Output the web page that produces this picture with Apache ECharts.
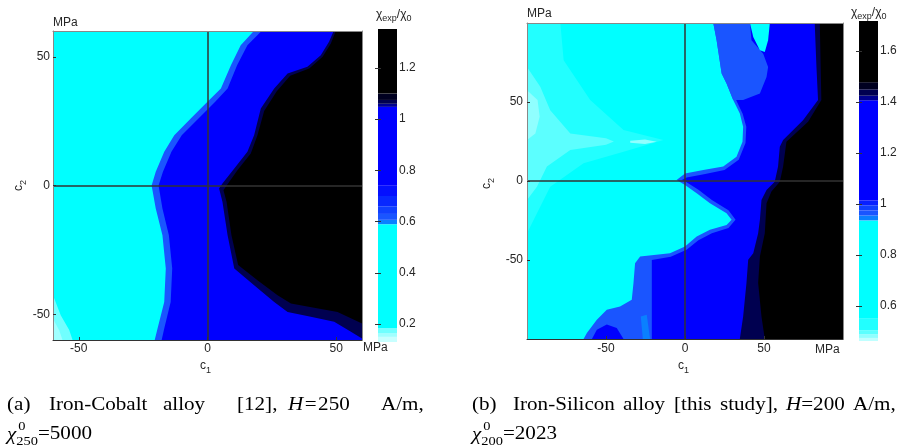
<!DOCTYPE html>
<html>
<head>
<meta charset="utf-8">
<script src="https://cdn.jsdelivr.net/npm/echarts@6/dist/echarts.min.js"></script>
<style>
html, body { margin: 0; padding: 0; background: #fff; }
#main { width: 898px; height: 448px; }
</style>
</head>
<body>
<div id="main"></div>
<script>
// ---------- data, points are [c1, c2] in MPa ----------

// (a) Iron-Cobalt, 250 A/m
const leftRange = [-60, 60];
const leftTicks = [-50, 0, 50];
// contour edges, listed from top to bottom, region to their right gets the level
const leftCyanEdge = [[18, 60], [12.9, 54.5], [9.1, 46.7], [5.2, 37.7], [0, 32.5], [-6.5, 26], [-12.9, 19.5], [-16.8, 13.1], [-20.1, 5.3], [-21.7, 0], [-20.1, -8.9], [-17.5, -19.3], [-16.2, -32.2], [-16.8, -45.2], [-19.4, -55.5], [-20.5, -60]];
const leftBlueEdge = [[21, 60], [15.5, 54.5], [11.5, 46.7], [7.8, 37.7], [3, 32.5], [-3.5, 26], [-10, 19.5], [-14, 13.1], [-17.3, 5.3], [-19, 0], [-17.5, -8.9], [-15, -19.3], [-13.7, -32.2], [-14.3, -45.2], [-16.8, -55.5], [-17.8, -60]];
const leftNavyEdge = [[49, 60], [47.2, 55.8], [44, 50.6], [38.8, 46.1], [31.1, 43.5], [25.9, 37.7], [20.7, 29.9], [18.1, 19.5], [15.5, 13.1], [10.4, 6.6], [5.8, 0.8], [4.5, -1.2], [5.8, -6.3], [7.8, -19.3], [10.4, -32.2], [18.1, -38.7], [25.9, -45.2], [31.1, -49.1], [40.1, -51], [49.2, -52.9], [55.7, -56.8], [60, -59.4]];
const leftBlackEdge = [[49.8, 60], [47.9, 55.1], [44.7, 50], [39.5, 45.4], [32.1, 42.6], [26.9, 36.6], [22, 28.9], [19.4, 19.5], [16.8, 12.4], [11.7, 6], [7.5, 0.1], [6.2, -1.8], [7.4, -6.3], [9.3, -19.3], [11.9, -30.9], [19.4, -36.8], [27.2, -42.6], [32.4, -45.8], [41.4, -47.5], [50.5, -49.1], [60, -53.6]];
const leftCornerOuter = [[-60, -42.6], [-57, -50.4], [-53.7, -56.1], [-52.4, -60], [-60, -60]];
const leftCornerInner = [[-60, -51.7], [-57.6, -56.2], [-56.3, -60], [-60, -60]];
// background, corner outer, corner inner, band, blue, navy, black
const leftShapeLevels = [0.4, 0.175, 0.155, 0.62, 0.9, 1.07, 1.2];
const leftBarEdges = [0.13, 0.15, 0.165, 0.185, 0.59, 0.607, 0.63, 0.66, 0.7, 0.74, 1.048, 1.06, 1.075, 1.1, 1.352];
const leftBarTicks = [0.2, 0.4, 0.6, 0.8, 1, 1.2];

// (b) Iron-Silicon, 200 A/m
const rightRange = [-100, 100];
const rightTicks = [-50, 0, 50];
const rightCyanEdge = [[17.9, 100], [20, 89.1], [23.2, 68], [26.3, 61.7], [30.5, 51.2], [34.7, 42.7], [36.8, 34.3], [36.4, 24.8], [32.6, 15.4], [24.2, 9.1], [11.6, 6.9], [0, 4.8], [-5.3, 0.6], [0, -2.5], [7.4, -7.8], [15.8, -14.1], [26.3, -20.4], [29.5, -24.6], [26.3, -27.8], [15.8, -30.9], [7.4, -35.2], [0, -41.5], [-9.5, -45.7], [-28.4, -47.8], [-31.6, -52], [-32.6, -64.6], [-33.7, -75.2], [-41.1, -79.4], [-49.5, -81.5], [-55.8, -87.8], [-62.1, -96.2], [-64.2, -100]];
const rightBlueEdge = [[20.5, 100], [22.5, 89], [25.5, 68], [28.5, 61.7], [32.5, 51], [36.5, 42.5], [38.8, 34.3], [38.3, 24], [34, 13.5], [25, 7], [12, 4.3], [1, 2.2], [-2, 0.6], [1, -0.8], [8.5, -5.5], [17, -12], [27.5, -18.5], [32, -24.6], [27.5, -29.8], [17, -33], [8.5, -37.5], [1, -43.5], [-9, -48], [-21, -50], [-21, -100]];
const rightNavyEdge = [[82.1, 100], [83.2, 72.2], [84.2, 51.2], [74.7, 38.5], [62.1, 25.9], [60, 21.7], [58.9, 9.1], [56.8, -0.4], [51.6, -5.7], [48.4, -12], [47.4, -24.6], [46.3, -33.1], [43.2, -45.7], [40, -49.9], [38.9, -64.6], [36.8, -85.7], [34.7, -100]];
const rightBlackEdge = [[85.3, 100], [86.3, 51.2], [77.9, 37.5], [64.2, 24.8], [62.1, 9.1], [60, -0.4], [54.7, -6.7], [51.6, -14.1], [50.5, -33.1], [47.4, -47.8], [46.3, -64.6], [48.4, -85.7], [50.5, -100]];
const rightPaleOuter = [[-100, 100], [-78.9, 100], [-76.8, 76.4], [-60, 51.2], [-38.9, 32.2], [-13.7, 25.9], [-38.9, 18.5], [-64.2, 11.2], [-85.3, -3.6], [-93.7, -20.4], [-100, -33.1]];
const rightPaleMid = [[-100, 72.2], [-91.6, 59.6], [-85.3, 44.8], [-72.6, 30.1], [-50, 27], [-45, 25], [-50, 23], [-72.6, 19.6], [-87.4, 9.1], [-93.7, -3.6], [-100, -12]];
const rightPaleInner = [[-100, 57.5], [-93.3, 51.2], [-92, 40.6], [-94.7, 30.1], [-100, 25.9]];
const rightStreak = [[-34.7, 25.5], [-25.3, 26.3], [-17.9, 24.8], [-25.3, 23.4], [-34.7, 24.2]];
const rightUpperPatch = [[17.9, 100], [41.1, 100], [42.1, 89.1], [49.5, 80.6], [52.6, 72.2], [51.6, 65.9], [47.4, 55.4], [36.8, 51.2], [30.5, 51.2], [26.3, 61.7], [23.2, 68], [20, 89.1]];
const rightTopPocket = [[41.1, 100], [53.7, 100], [52.6, 89.1], [50.5, 81.7], [47.4, 82.7], [43.2, 91.2]];
const rightLowPocket = [[-28, -85.7], [-24.2, -84.6], [-22.1, -100], [-26.7, -100]];
const rightDeepBlob = [[-55.8, -94.1], [-49.5, -90.9], [-43.2, -93.1], [-38.9, -100], [-58.9, -100]];
// background, pale outer/mid/inner, streak, band, blue, upper patch, top pocket, low pocket, blob, navy, black
const rightShapeLevels = [0.8, 0.52, 0.5, 0.48, 0.48, 0.965, 1.2, 0.965, 0.8, 0.945, 1.2, 1.44, 1.6];
const rightBarEdges = [0.463, 0.475, 0.49, 0.505, 0.55, 0.936, 0.955, 0.975, 0.995, 1.014, 1.407, 1.425, 1.45, 1.478, 1.718];
const rightBarTicks = [0.6, 0.8, 1, 1.2, 1.4, 1.6];

// ---------- styles ----------
const leftBarColors = ['#c8ffff', '#a0ffff', '#70ffff', '#00ffff', '#0a80ff', '#1a55ff', '#1040ff', '#0828ff', '#0410ff', '#0000ff', '#000090', '#000050', '#000020', '#000000'];
const rightBarColors = ['#c0ffff', '#90ffff', '#5cffff', '#22ffff', '#00ffff', '#0a80ff', '#1a55ff', '#1040ff', '#0820ff', '#0000ff', '#000090', '#000050', '#000020', '#000000'];
const SANS = 'Liberation Sans';
const SERIF = 'Liberation Serif';
const INK = '#262626';

function box(r) {
    return [[r[0], r[0]], [r[0], r[1]], [r[1], r[1]], [r[1], r[0]]];
}
function toRight(edge, r) {
    return edge.concat([[r[1], r[0]], [r[1], r[1]]]);
}

const leftShapes = [box(leftRange), leftCornerOuter, leftCornerInner,
    toRight(leftCyanEdge, leftRange), toRight(leftBlueEdge, leftRange),
    toRight(leftNavyEdge, leftRange), toRight(leftBlackEdge, leftRange)];
const rightShapes = [box(rightRange), rightPaleOuter, rightPaleMid, rightPaleInner, rightStreak,
    toRight(rightCyanEdge, rightRange), toRight(rightBlueEdge, rightRange),
    rightUpperPatch, rightTopPocket, rightLowPocket, rightDeepBlob,
    toRight(rightNavyEdge, rightRange), toRight(rightBlackEdge, rightRange)];

function pieces(edges, colors) {
    return edges.slice(0, -1).map((lo, i) => ({ gte: lo, lt: edges[i + 1], color: colors[i] }));
}
function barData(edges) {
    return edges.slice(0, -1).map((lo, i) => [lo, edges[i + 1], (lo + edges[i + 1]) / 2]);
}

function shapeRenderer(shapes) {
    return function (params, api) {
        return {
            type: 'polygon',
            shape: { points: shapes[params.dataIndex].map(p => api.coord(p)) },
            style: { fill: api.visual('color') }
        };
    };
}
function barRenderer(params, api) {
    const a = api.coord([0, api.value(1)]);
    const b = api.coord([1, api.value(0)]);
    return {
        type: 'rect',
        shape: { x: a[0], y: a[1], width: b[0] - a[0], height: b[1] - a[1] },
        style: { fill: api.visual('color') }
    };
}

const labelFont = { color: INK, fontFamily: SANS, fontSize: 12 };

function plotAxes(grid, range, ticks, margin) {
    const frame = { show: true, onZero: false, lineStyle: { color: '#888', width: 1 } };
    return {
        x: [{
            gridIndex: grid, type: 'value', min: range[0], max: range[1], position: 'bottom', z: 10,
            axisLine: { show: true, onZero: false, lineStyle: { color: '#333', width: 1 } },
            axisTick: { show: true, inside: true, length: 3, customValues: ticks, lineStyle: { color: '#333' } },
            axisLabel: Object.assign({ customValues: ticks, margin: margin }, labelFont),
            splitLine: { show: false }
        }, {
            gridIndex: grid, type: 'value', min: range[0], max: range[1], position: 'top', z: 10,
            axisLine: frame, axisTick: { show: false }, axisLabel: { show: false }, splitLine: { show: false }
        }],
        y: [{
            gridIndex: grid, type: 'value', min: range[0], max: range[1], position: 'left', z: 10,
            axisLine: frame,
            axisTick: { show: true, inside: true, length: 3, customValues: ticks, lineStyle: { color: '#333' } },
            axisLabel: Object.assign({ customValues: ticks, margin: margin }, labelFont),
            splitLine: { show: false }
        }, {
            gridIndex: grid, type: 'value', min: range[0], max: range[1], position: 'right', z: 10,
            axisLine: frame, axisTick: { show: false }, axisLabel: { show: false }, splitLine: { show: false }
        }]
    };
}
function barAxes(grid, edges, ticks) {
    const lo = edges[0], hi = edges[edges.length - 1];
    return {
        x: [{ gridIndex: grid, type: 'value', min: 0, max: 1, show: false }],
        y: [{
            gridIndex: grid, type: 'value', min: lo, max: hi, position: 'right', z: 10,
            axisLine: { show: false },
            axisTick: { show: true, inside: true, length: 3, customValues: ticks, lineStyle: { color: '#333' } },
            axisLabel: Object.assign({ customValues: ticks, margin: 2 }, labelFont),
            splitLine: { show: false }
        }, {
            gridIndex: grid, type: 'value', min: lo, max: hi, position: 'left', z: 10,
            axisLine: { show: false },
            axisTick: { show: true, inside: true, length: 3, customValues: ticks, lineStyle: { color: '#333' } },
            axisLabel: { show: false }, splitLine: { show: false }
        }]
    };
}

const la = plotAxes(0, leftRange, leftTicks, 3);
const lb = barAxes(1, leftBarEdges, leftBarTicks);
const ra = plotAxes(2, rightRange, rightTicks, 4);
const rb = barAxes(3, rightBarEdges, rightBarTicks);
// xAxis: 0,1 left plot | 2 left bar | 3,4 right plot | 5 right bar
// yAxis: 0,1 left plot | 2,3 left bar | 4,5 right plot | 6,7 right bar

// text made of pieces (sub/superscripts), placed one after another
const measureCtx = document.createElement('canvas').getContext('2d');
function textRun(x, y, parts, family, size, scaleX) {
    const out = [];
    let cx = x;
    parts.forEach(p => {
        const fs = p.size || size;
        const italic = p.italic ? 'italic ' : '';
        measureCtx.font = italic + fs + 'px "' + family + '"';
        out.push({
            type: 'text', x: cx + (p.dx || 0), y: y + (p.dy || 0), scaleX: scaleX || 1, silent: true,
            style: {
                text: p.t, fill: p.color || (family === SERIF ? '#000' : INK), fontFamily: family,
                fontSize: fs, fontStyle: p.italic ? 'italic' : 'normal',
                align: 'left', verticalAlign: 'middle'
            }
        });
        if (!p.stack) cx += measureCtx.measureText(p.t).width * (scaleX || 1) + (p.dx || 0);
    });
    return out;
}
function label(x, y, t, extra) {
    return Object.assign({
        type: 'text', x: x, y: y, silent: true,
        style: { text: t, fill: INK, fontFamily: SANS, fontSize: 12, align: 'left', verticalAlign: 'middle' }
    }, extra || {});
}
function words(y, list) {
    return [].concat.apply([], list.map(w => textRun(w[0], y, w[1], SERIF, 19, CAP)));
}

const CAP = 1.11;
const graphics = [].concat(
    [label(53, 22.5, 'MPa'), label(363, 348, 'MPa'), label(527, 14, 'MPa'), label(815, 350, 'MPa'),
     label(87, 77, '(250 A/m)'), label(548, 51, '(200 A/m)')],
    textRun(200, 365.5, [{ t: 'c' }, { t: '1', size: 9, dy: 5 }], SANS, 12),
    textRun(678, 365.5, [{ t: 'c' }, { t: '1', size: 9, dy: 5 }], SANS, 12),
    [{
        type: 'group', x: 19, y: 191, rotation: Math.PI / 2,
        children: textRun(0, 0, [{ t: 'c' }, { t: '2', size: 9, dy: 5 }], SANS, 12)
    }, {
        type: 'group', x: 487, y: 189, rotation: Math.PI / 2,
        children: textRun(0, 0, [{ t: 'c' }, { t: '2', size: 9, dy: 5 }], SANS, 12)
    }],
    textRun(376, 15, [{ t: 'χ' }, { t: 'exp', size: 9, dy: 4 }, { t: '/χ' }, { t: '0', size: 9, dy: 4 }], SANS, 12),
    textRun(851, 13, [{ t: 'χ' }, { t: 'exp', size: 9, dy: 4 }, { t: '/χ' }, { t: '0', size: 9, dy: 4 }], SANS, 12),
    // caption (a), justified words
    words(405, [[7, [{ t: '(a)' }]], [49, [{ t: 'Iron-Cobalt' }]], [163, [{ t: 'alloy' }]],
        [237, [{ t: '[12],' }]], [288, [{ t: 'H', italic: true }, { t: '=', dx: 1.5 }, { t: '250', dx: 1.5 }]], [381, [{ t: 'A/m,' }]]]),
    textRun(7, 434.5, [{ t: 'χ', italic: true }, { t: '0', size: 13, dy: -8, stack: true, dx: 2 }, { t: '250', size: 13, dy: 7 }, { t: '=5000' }], SERIF, 19, CAP),
    // caption (b)
    words(405, [[472, [{ t: '(b)' }]], [513, [{ t: 'Iron-Silicon' }]], [623, [{ t: 'alloy' }]],
        [674, [{ t: '[this' }]], [720, [{ t: 'study],' }]], [786, [{ t: 'H', italic: true }, { t: '=200' }]], [853, [{ t: 'A/m,' }]]]),
    textRun(472, 434.5, [{ t: 'χ', italic: true }, { t: '0', size: 13, dy: -8, stack: true, dx: 2 }, { t: '200', size: 13, dy: 7 }, { t: '=2023' }], SERIF, 19, CAP)
);

const zeroLines = {
    silent: true, symbol: 'none', animation: false,
    label: { show: false },
    lineStyle: { color: '#333', width: 1.5, type: 'solid' },
    emphasis: { disabled: true },
    data: [{ xAxis: 0 }, { yAxis: 0 }]
};

const option = {
    animation: false,
    backgroundColor: '#fff',
    grid: [
        { left: 53, top: 31, width: 309, height: 309, containLabel: false, outerBoundsMode: 'none' },
        { left: 378, top: 29, width: 19, height: 313, containLabel: false, outerBoundsMode: 'none' },
        { left: 527, top: 23, width: 316, height: 316, containLabel: false, outerBoundsMode: 'none' },
        { left: 859, top: 21, width: 19, height: 320, containLabel: false, outerBoundsMode: 'none' }
    ],
    xAxis: [].concat(la.x, lb.x, ra.x, rb.x),
    yAxis: [].concat(la.y, lb.y, ra.y, rb.y),
    visualMap: [
        { type: 'piecewise', show: false, seriesIndex: [0, 1], dimension: 2, pieces: pieces(leftBarEdges, leftBarColors) },
        { type: 'piecewise', show: false, seriesIndex: [2, 3], dimension: 2, pieces: pieces(rightBarEdges, rightBarColors) }
    ],
    series: [
        {
            type: 'custom', xAxisIndex: 0, yAxisIndex: 0, silent: true, z: 2,
            renderItem: shapeRenderer(leftShapes),
            data: leftShapes.map((s, i) => [i, 0, leftShapeLevels[i]])
        },
        {
            type: 'custom', xAxisIndex: 2, yAxisIndex: 2, silent: true, z: 2,
            renderItem: barRenderer, data: barData(leftBarEdges)
        },
        {
            type: 'custom', xAxisIndex: 3, yAxisIndex: 4, silent: true, z: 2,
            renderItem: shapeRenderer(rightShapes),
            data: rightShapes.map((s, i) => [i, 0, rightShapeLevels[i]])
        },
        {
            type: 'custom', xAxisIndex: 5, yAxisIndex: 6, silent: true, z: 2,
            renderItem: barRenderer, data: barData(rightBarEdges)
        },
        { type: 'line', xAxisIndex: 0, yAxisIndex: 0, data: [], z: 5, markLine: zeroLines },
        { type: 'line', xAxisIndex: 3, yAxisIndex: 4, data: [], z: 5, markLine: zeroLines }
    ],
    graphic: graphics
};

const chart = echarts.init(document.getElementById('main'));
chart.setOption(option);
</script>
</body>
</html>
